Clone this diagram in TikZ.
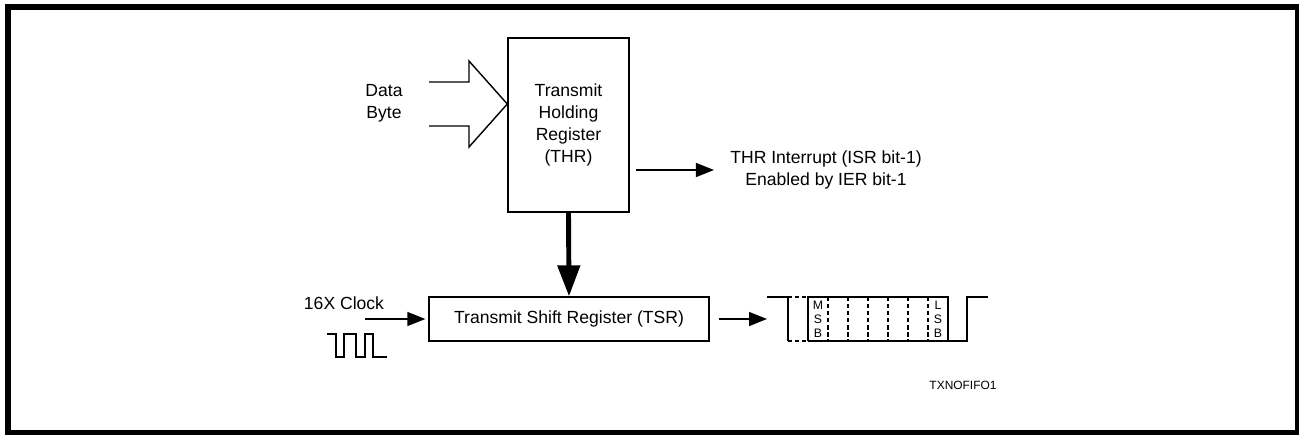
\documentclass[tikz,border=0pt]{standalone}
\usepackage{fontspec}
\setmainfont{Liberation Sans}
\usetikzlibrary{arrows.meta}
\tikzstyle{register} = [rectangle, draw=black, line width=0.8pt, text centered, align=center, inner sep=0pt]
\tikzstyle{txt} = [align=center, inner sep=0pt, font=\fontsize{10}{12.5}\selectfont]
\tikzstyle{tiny} = [align=center, inner sep=0pt, font=\fontsize{7}{7.9}\selectfont]
\tikzstyle{arrow} = [line width=0.8pt, -{Triangle[length=0.36cm, width=0.28cm]}]
\tikzstyle{bigarrow} = [line width=2.8pt, -{Triangle[length=0.62cm, width=0.44cm]}]
\tikzstyle{wave} = [line width=0.7pt]
\tikzstyle{bitmark} = [line width=0.7pt, dash pattern=on 2.5pt off 1.5pt]

\begin{document}
\begin{tikzpicture}[x={(0.02cm,0)}, y={(0,-0.02cm)}, font=\fontsize{10}{12.5}\selectfont]
    \useasboundingbox (0,0) rectangle (1299,434);
    \draw [line width=3.4pt] (8,7) rectangle (1298,433);

    \node (thr) [register, minimum width=2.42cm, minimum height=3.48cm] at (568.5,125) {Transmit\\Holding\\Register\\(THR)};
    \node (tsr) [register, minimum width=5.6cm, minimum height=0.88cm] at (569,319) {Transmit Shift Register (TSR)};
    \node (data) [txt] at (384,103) {Data\\Byte};
    \node (int) [txt] at (826,170) {THR Interrupt (ISR bit-1)\\Enabled by IER bit-1};
    \node (clk) [txt] at (344,303) {16X Clock};
    \node (msb) [tiny] at (818,319) {M\\S\\B};
    \node (lsb) [tiny] at (938,319) {L\\S\\B};
    \node (tag) [font=\fontsize{6.8}{8}\selectfont, inner sep=0pt] at (963,385) {TXNOFIFO1};

    \coordinate (frame) at (767,319);

    % data byte input
    \draw [line width=0.8pt] (429,82) -- (469,82) -- (469,61) -- (thr.west |- 0,104) -- (469,147) -- (469,126) -- (429,126);

    \draw [arrow] ([xshift=0.12cm]thr.east |- int) -- ([xshift=-0.32cm]int.west);
    \draw [bigarrow] (thr.south) -- (tsr.north);
    \draw [arrow] ([xshift=-1.26cm]tsr.west) -- ([xshift=-0.06cm]tsr.west);
    \draw [arrow] ([xshift=0.18cm]tsr.east) -- (frame);

    % 16x clock
    \draw [wave] (327,334) -- (336,334) -- (336,357) -- (344,357) -- (344,334) -- (356,334) -- (356,357)
        -- (365,357) -- (365,334) -- (373,334) -- (373,357) -- (387,357);

    % serial frame
    \draw [wave] (frame |- 0,297) -- (788,297) -- (788,341);
    \draw [bitmark] (788,297) -- (808,297);
    \draw [bitmark] (788,341) -- (808,341);
    \draw [wave] (808,341) -- (808,297) -- (948,297) -- (948,341);
    \draw [wave] (808,341) -- (967,341) -- (967,297) -- (988,297);
    \foreach \x in {828,848,...,928}
        \draw [bitmark] (\x,297) -- (\x,341);
\end{tikzpicture}
\end{document}
